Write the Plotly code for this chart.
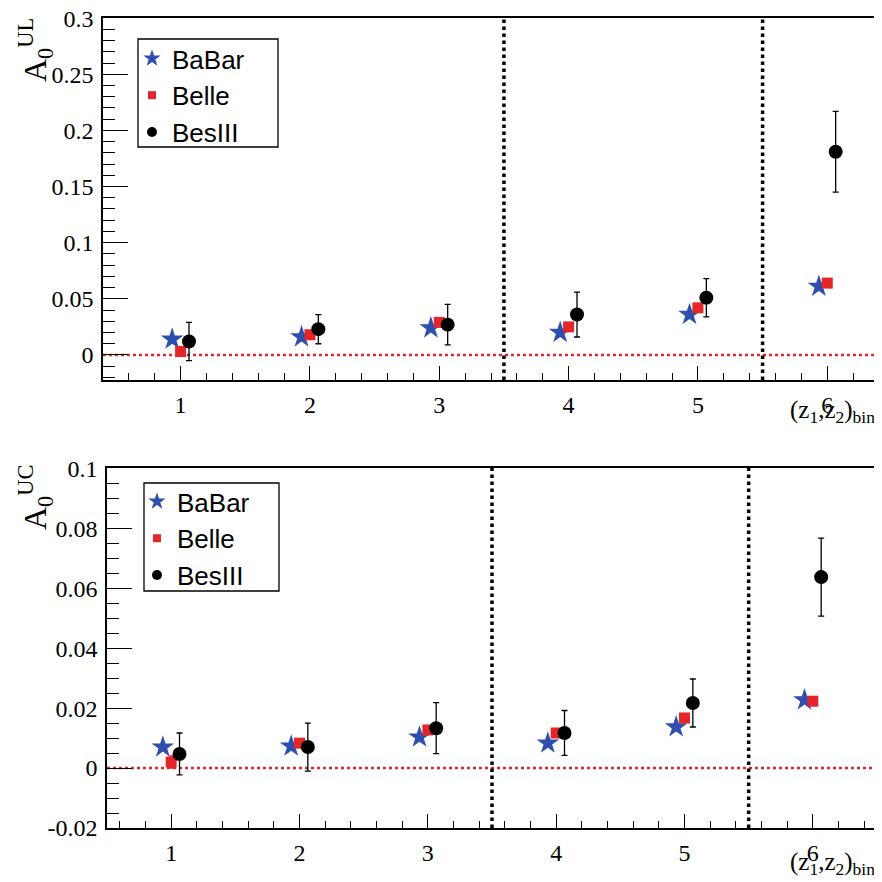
import plotly.graph_objects as go

bins = [1, 2, 3, 4, 5, 6]

ul_babar = [0.014, 0.016, 0.024, 0.020, 0.036, 0.061]
ul_belle = [0.003, 0.018, 0.029, 0.025, 0.042, 0.064]
ul_belle_err = [0.004, 0.002, 0.002, 0.002, 0.002, 0.002]
ul_besiii = [0.012, 0.023, 0.027, 0.036, 0.051, 0.181]
ul_besiii_err = [0.017, 0.013, 0.018, 0.020, 0.017, 0.036]

uc_babar = [0.0070, 0.0073, 0.0103, 0.0083, 0.0137, 0.0227]
uc_belle = [0.0020, 0.0083, 0.0127, 0.0117, 0.0167, 0.0223]
uc_belle_err = [0.002, 0.001, 0.001, 0.001, 0.001, 0.001]
uc_besiii = [0.0047, 0.0070, 0.0133, 0.0117, 0.0217, 0.0637]
uc_besiii_err = [0.0070, 0.0080, 0.0085, 0.0075, 0.0080, 0.0130]

series_names = ["BaBar", "Belle", "BesIII"]
bin_edges_dashed = [3.5, 5.5]

ul_ticks = [0, 0.05, 0.1, 0.15, 0.2, 0.25, 0.3]
ul_ticktext = ["0", "0.05", "0.1", "0.15", "0.2", "0.25", "0.3"]
uc_ticks = [-0.02, 0, 0.02, 0.04, 0.06, 0.08, 0.1]
uc_ticktext = ["-0.02", "0", "0.02", "0.04", "0.06", "0.08", "0.1"]

BLUE = "#2e4fae"
RED = "#e2262a"
BLACK = "#000000"
SERIF = "Liberation Serif"
SANS = "Liberation Sans"

OFF = 0.065
W = 882.0
S = 8  # page body offset compensation


def px(v):
    return (v - S) / W


def py(v):
    return 1 - (v - S) / W


fig = go.Figure()

STYLES = [
    dict(symbol="star", size=17, color=BLUE, line=dict(width=0)),
    dict(symbol="square", size=11, color=RED, line=dict(width=0)),
    dict(symbol="circle", size=14, color=BLACK, line=dict(width=0)),
]
LEGEND_STYLES = [
    dict(symbol="star", size=13, color=BLUE, line=dict(width=0)),
    dict(symbol="square", size=8, color=RED, line=dict(width=0)),
    dict(symbol="circle", size=10, color=BLACK, line=dict(width=0)),
]


def add_panel(babar, belle, belle_err, besiii, besiii_err, xa, ya, legend):
    xs = lambda d: [b + d for b in bins]
    fig.add_trace(go.Scatter(
        x=xs(-OFF), y=babar, mode="markers", name=series_names[0], marker=STYLES[0],
        showlegend=False, xaxis=xa, yaxis=ya))
    fig.add_trace(go.Scatter(
        x=xs(0.0), y=belle, mode="markers", name=series_names[1], marker=STYLES[1],
        error_y=dict(type="data", array=belle_err, color=RED, thickness=1.5, width=2),
        showlegend=False, xaxis=xa, yaxis=ya))
    fig.add_trace(go.Scatter(
        x=xs(OFF), y=besiii, mode="markers", name=series_names[2], marker=STYLES[2],
        error_y=dict(type="data", array=besiii_err, color=BLACK, thickness=1.3, width=3),
        showlegend=False, xaxis=xa, yaxis=ya))
    # legend-only entries (smaller markers, as in the reference legend)
    for name, st in zip(series_names, LEGEND_STYLES):
        fig.add_trace(go.Scatter(x=[None], y=[None], mode="markers", name=name, marker=st,
                                 xaxis=xa, yaxis=ya, legend=legend, showlegend=True))


add_panel(ul_babar, ul_belle, ul_belle_err, ul_besiii, ul_besiii_err, "x", "y", "legend")
add_panel(uc_babar, uc_belle, uc_belle_err, uc_besiii, uc_besiii_err, "x2", "y2", "legend2")

axis_common = dict(
    showgrid=False, zeroline=False, showline=True, linecolor="black", linewidth=1.5,
    mirror=True, ticks="inside", tickcolor="black", tickwidth=1.2, automargin=False,
    ticklabeloverflow="allow",
    tickfont=dict(family=SERIF, size=24, color="black"),
)
xminor = dict(dtick=0.2, tick0=0, ticks="inside", ticklen=7, tickcolor="black")

legend_common = dict(xanchor="left", yanchor="top", borderwidth=0, bgcolor="rgba(0,0,0,0)",
                     font=dict(family=SANS, size=26, color="black"), itemsizing="trace",
                     tracegroupgap=0, itemwidth=30)

fig.update_layout(
    width=882, height=882,
    margin=dict(l=0, r=0, t=0, b=0, autoexpand=False),
    paper_bgcolor="white", plot_bgcolor="white",
    xaxis=dict(domain=[px(103), px(879)], range=[0.4, 6.4], anchor="y",
               tickvals=bins, ticklen=14, ticklabelstandoff=2, minor=xminor, **axis_common),
    yaxis=dict(domain=[py(380), py(18)], range=[-0.0223, 0.3001], anchor="x",
               tickvals=ul_ticks, ticktext=ul_ticktext, ticklen=25, ticklabelstandoff=3,
               minor=dict(dtick=0.01, tick0=0, ticks="inside", ticklen=12, tickcolor="black"),
               **axis_common),
    xaxis2=dict(domain=[px(107), px(877)], range=[0.5, 6.5], anchor="y2",
                tickvals=bins, ticklen=14, ticklabelstandoff=2, minor=xminor, **axis_common),
    yaxis2=dict(domain=[py(828), py(468)], range=[-0.02, 0.1001], anchor="x2",
                tickvals=uc_ticks, ticktext=uc_ticktext, ticklen=25, ticklabelstandoff=3,
                minor=dict(dtick=0.005, tick0=0, ticks="inside", ticklen=12, tickcolor="black"),
                **axis_common),
    legend=dict(x=px(132), y=py(35), **legend_common),
    legend2=dict(x=px(137), y=py(478), **legend_common),
    showlegend=True,
)

shapes = []
for xa, ya in [("x", "y"), ("x2", "y2")]:
    shapes.append(dict(type="line", xref=f"{xa} domain", yref=ya, x0=0, x1=1, y0=0, y1=0,
                       line=dict(color=RED, width=2.5, dash="dot"), layer="below"))
    for xv in bin_edges_dashed:
        shapes.append(dict(type="line", xref=xa, yref=f"{ya} domain", x0=xv, x1=xv, y0=0, y1=1,
                           line=dict(color="black", width=3.5, dash="dot")))
# legend frames
for (x0, y0, x1, y1) in [(138, 39, 278, 147), (144, 483, 279, 591)]:
    shapes.append(dict(type="rect", xref="paper", yref="paper",
                       x0=px(x0), x1=px(x1), y0=py(y1), y1=py(y0),
                       line=dict(color="black", width=1.3), fillcolor="rgba(0,0,0,0)"))
fig.update_layout(shapes=shapes)

annotations = [
    dict(text="A<sub>0</sub><sup>UL</sup>", x=px(35), y=py(50), xref="paper", yref="paper",
         xanchor="center", yanchor="middle",
         textangle=-90, showarrow=False, font=dict(family=SERIF, size=32, color="black")),
    dict(text="A<sub>0</sub><sup>UC</sup>", x=px(35), y=py(498), xref="paper", yref="paper",
         xanchor="center", yanchor="middle",
         textangle=-90, showarrow=False, font=dict(family=SERIF, size=32, color="black")),
    dict(text="(z<sub>1</sub>,z<sub>2</sub>)<sub>bin</sub>", x=px(877), y=py(394),
         xref="paper", yref="paper", xanchor="right", yanchor="top", showarrow=False,
         font=dict(family=SERIF, size=25, color="black")),
    dict(text="(z<sub>1</sub>,z<sub>2</sub>)<sub>bin</sub>", x=px(877), y=py(846),
         xref="paper", yref="paper", xanchor="right", yanchor="top", showarrow=False,
         font=dict(family=SERIF, size=25, color="black")),
]
fig.update_layout(annotations=annotations)

fig.write_html("out.html")
